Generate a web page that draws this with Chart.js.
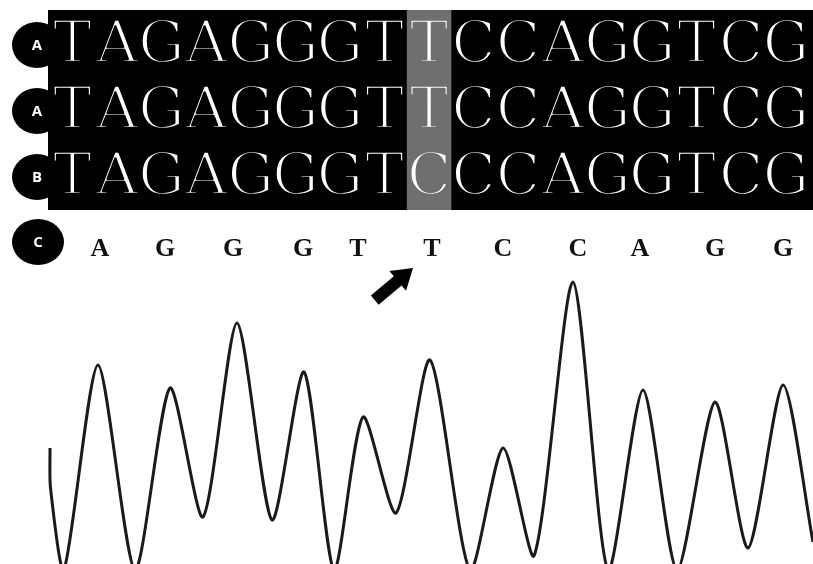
<!DOCTYPE html>
<html lang="en">
<head>
    <meta charset="UTF-8">
    <title>Sanger trace - T/C variant</title>
    <script src="https://cdn.jsdelivr.net/npm/chart.js"></script>
    <style>
        html, body { margin: 0; padding: 0; background: #fff; }
        #wrap { width: 813px; height: 564px; }
    </style>
</head>
<body>
    <div id="wrap"><canvas id="traceChart" width="813" height="564"></canvas></div>

    <script>
        // alignment rows (A, A, B) and the differing column
        const rowLabels = ['A', 'A', 'B'];
        const alignRows = ['TAGAGGGTTCCAGGTCG', 'TAGAGGGTTCCAGGTCG', 'TAGAGGGTCCCAGGTCG'];
        const variantCol = 8;

        // base calls of the trace (row C) and where they sit on the x axis
        const callLabel = 'C';
        const baseCalls = ['A', 'G', 'G', 'G', 'T', 'T', 'C', 'C', 'A', 'G', 'G'];
        const basePos = [100, 165, 233, 303, 358, 432, 503, 578, 640, 715, 783];
        const arrowBase = 5;

        // trace: scan position / signal
        const traceX = [50, 50.5, 64, 98, 135, 170, 203, 237, 272, 304, 334, 363, 396, 430, 470, 503, 534, 573, 608, 643, 677, 715, 748, 783, 813];
        const traceY = [116, 76, -6, 199, -6, 176, 47, 241, 44, 192, -6, 147, 51, 204, -6, 116, 8, 282, -6, 174, -6, 162, 16, 179, 22];

        const annotate = {
            id: 'annotate',
            beforeDatasetsDraw(chart) {
                const ctx = chart.ctx;
                const x = chart.scales.x;
                const colW = 44.6, start = 50;
                const px = v => x.getPixelForValue(v);

                ctx.save();
                // black alignment block + grey variant column
                ctx.fillStyle = '#000';
                ctx.fillRect(px(start) - 2, 10, chart.width, 200);
                const gx0 = px(start + colW * variantCol), gx1 = px(start + colW * (variantCol + 1));
                ctx.fillStyle = '#6f6f6f';
                ctx.fillRect(gx0, 10, gx1 - gx0, 200);

                // sequences (thin white serif letters)
                ctx.font = '58px "DejaVu Serif"';
                ctx.textAlign = 'center';
                ctx.textBaseline = 'alphabetic';
                ctx.lineJoin = 'round';
                alignRows.forEach((seq, r) => {
                    const base = 62 + r * 66;
                    for (let i = 0; i < seq.length; i++) {
                        const cx = px(start + colW * (i + 0.5));
                        ctx.fillStyle = '#fff';
                        ctx.fillText(seq[i], cx, base);
                        ctx.strokeStyle = i === variantCol ? '#6f6f6f' : '#000';
                        ctx.lineWidth = 2.4;
                        ctx.strokeText(seq[i], cx, base);
                    }
                });

                // row badges
                const badge = (cx, cy, rx, ry, txt) => {
                    ctx.fillStyle = '#000';
                    ctx.beginPath();
                    ctx.ellipse(cx, cy, rx, ry, 0, 0, Math.PI * 2);
                    ctx.fill();
                    ctx.fillStyle = '#fff';
                    ctx.font = 'bold 15px "Open Sans"';
                    ctx.textBaseline = 'middle';
                    ctx.fillText(txt, cx, cy + 1);
                };
                rowLabels.forEach((l, r) => badge(37, 45 + r * 66, 25, 23, l));
                badge(38, 242, 26, 23, callLabel);

                // base calls
                ctx.fillStyle = '#111';
                ctx.font = 'bold 26px "Liberation Serif"';
                ctx.textBaseline = 'alphabetic';
                baseCalls.forEach((b, i) => ctx.fillText(b, px(basePos[i]), 256));

                // arrow pointing at the variant call
                const tipX = px(basePos[arrowBase]) - 19, tipY = 268;
                ctx.translate(tipX, tipY);
                ctx.rotate(Math.atan2(-32, 38));
                ctx.fillStyle = '#000';
                ctx.beginPath();
                ctx.moveTo(0, 0);
                ctx.lineTo(-20, -13);
                ctx.lineTo(-20, -6);
                ctx.lineTo(-50, -6);
                ctx.lineTo(-50, 6);
                ctx.lineTo(-20, 6);
                ctx.lineTo(-20, 13);
                ctx.closePath();
                ctx.fill();
                ctx.restore();
            }
        };

        new Chart(document.getElementById('traceChart'), {
            type: 'line',
            data: {
                datasets: [{
                    data: traceX.map((v, i) => ({ x: v, y: traceY[i] })),
                    borderColor: '#1a1a1a',
                    borderWidth: 3,
                    pointRadius: 0,
                    tension: 0.25,
                    fill: false
                }]
            },
            options: {
                responsive: false,
                animation: false,
                layout: { padding: 0 },
                plugins: { legend: { display: false }, tooltip: { enabled: false } },
                scales: {
                    x: { type: 'linear', min: 0, max: 813, display: false },
                    y: { min: 0, max: 564, display: false }
                }
            },
            plugins: [annotate]
        });
    </script>
</body>
</html>
